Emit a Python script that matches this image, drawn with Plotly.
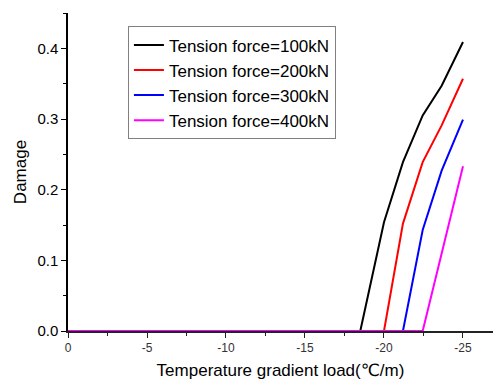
import plotly.graph_objects as go

# Data
x_100 = [0, -18.5, -20.0, -21.2, -22.45, -23.65, -25.0]
y_100 = [0, 0.0, 0.154, 0.239, 0.305, 0.347, 0.409]
x_200 = [0, -20.0, -21.2, -22.45, -23.65, -25.0]
y_200 = [0, 0.0, 0.152, 0.239, 0.291, 0.357]
x_300 = [0, -21.2, -22.45, -23.65, -25.0]
y_300 = [0, 0.0, 0.143, 0.227, 0.299]
x_400 = [0, -22.45, -25.0]
y_400 = [0, 0.0, 0.233]

names = ["Tension force=100kN", "Tension force=200kN",
         "Tension force=300kN", "Tension force=400kN"]
colors = ["#000000", "#ff0000", "#0000ff", "#ff00ff"]

x_ticks = [0, -5, -10, -15, -20, -25]
x_ticklabels = ["0", "-5", "-10", "-15", "-20", "-25"]
y_ticks = [0.0, 0.1, 0.2, 0.3, 0.4]
y_ticklabels = ["0.0", "0.1", "0.2", "0.3", "0.4"]

fig = go.Figure()
for xs, ys, n, c in zip([x_100, x_200, x_300, x_400],
                        [y_100, y_200, y_300, y_400], names, colors):
    fig.add_trace(go.Scatter(x=xs, y=ys, mode="lines", name=n,
                             line=dict(color=c, width=2)))

font_family = "Liberation Sans, Arial, DejaVu Sans, sans-serif"
fig.update_layout(
    width=493, height=385,
    margin=dict(l=68, r=0, t=13, b=54),
    paper_bgcolor="white", plot_bgcolor="white",
    font=dict(family=font_family, color="black"),
    showlegend=True,
    legend=dict(x=0.141, y=0.958, xanchor="left", yanchor="top",
                bordercolor="#808080", borderwidth=1, bgcolor="white",
                font=dict(size=17, family=font_family), tracegroupgap=0),
)
fig.update_xaxes(
    range=[0, -26.9], showgrid=False, zeroline=False,
    showline=True, linecolor="#222", linewidth=1.5,
    ticks="outside", ticklen=5, tickwidth=1.2, tickcolor="#222",
    tickvals=x_ticks, ticktext=x_ticklabels,
    tickfont=dict(size=12, color="#333"),
    minor=dict(tickvals=[-2.5, -7.5, -12.5, -17.5, -22.5], ticks="outside",
               ticklen=3, tickwidth=1.2, tickcolor="#222"),
    title=dict(text="Temperature gradient load(℃/m)", font=dict(size=17),
               standoff=10),
)
fig.update_yaxes(
    range=[0, 0.45], showgrid=False, zeroline=False,
    showline=True, linecolor="#000", linewidth=1.5,
    ticks="outside", ticklen=5, tickwidth=1.2, tickcolor="#000",
    tickvals=y_ticks, ticktext=y_ticklabels,
    tickfont=dict(size=15),
    minor=dict(tickvals=[0.05, 0.15, 0.25, 0.35, 0.45], ticks="outside",
               ticklen=3, tickwidth=1.2, tickcolor="#000"),
    title=dict(text="Damage", font=dict(size=17), standoff=6),
)
fig.write_html("out.html")
